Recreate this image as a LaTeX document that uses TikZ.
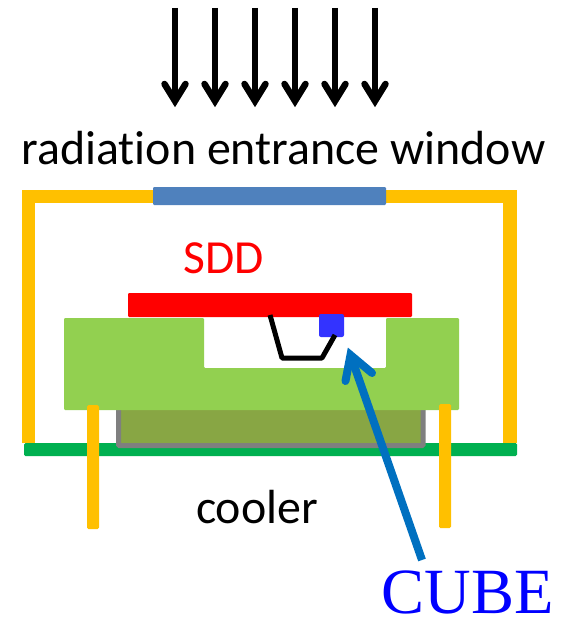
\documentclass[tikz,border=0pt]{standalone}
\usepackage{fontspec}
\setmainfont[Ligatures=NoCommon]{Carlito}
\newfontfamily\serifcube{Liberation Serif}
\definecolor{frameY}{HTML}{FFC000}
\definecolor{winB}{HTML}{4F81BD}
\definecolor{baseG}{HTML}{92D050}
\definecolor{boardG}{HTML}{00B050}
\definecolor{coolF}{HTML}{88A644}
\definecolor{coolS}{HTML}{7F7F7F}
\definecolor{chipB}{HTML}{3333FF}
\definecolor{arrowB}{HTML}{0070C0}
\tikzset{
  solidpart/.style={line width=0pt, rounded corners=1.2pt},
  framepart/.style={draw=frameY, line width=13.5pt, line cap=butt, line join=miter},
  pinpart/.style={fill=frameY, rounded corners=1.5pt},
  radshaft/.style={draw=black, line width=5.5pt},
  radhead/.style={draw=black, line width=6.5pt, line cap=round, line join=miter, miter limit=10},
  label/.style={inner sep=0pt, anchor=center},
}
\begin{document}
\begin{tikzpicture}[x=1pt,y=-1pt]
\useasboundingbox (0,0) rectangle (563,618);
% radiation arrows
\foreach \px in {175,215,255,295,335,375}{
  \coordinate (s\px) at (\px,8);
  \coordinate (e\px) at (\px,100);
  \coordinate (t\px) at (\px,101);
  \coordinate (wa\px) at (\px-10.5,84);
  \coordinate (wb\px) at (\px+10.5,84);
  \draw[radshaft] (s\px) -- (e\px);
  \draw[radhead] (wa\px) -- (t\px) -- (wb\px);
}
\node[label,font=\fontsize{47.9}{54}\selectfont] (title) at (283.5,148) {radiation entrance window};
% enclosure
\coordinate (fa) at (28.5,443);
\coordinate (fb) at (28.5,196.5);
\coordinate (fc) at (510,196.5);
\coordinate (fd) at (510,443);
\draw[framepart] (fa) -- (fb) -- (fc) -- (fd);
\fill[winB,solidpart] (153,187) rectangle (386,205);
\node[label,text=red,font=\fontsize{47.5}{52}\selectfont] (sdd) at (224,258) {SDD};
\fill[red,solidpart] (128,293) rectangle (412,317);
% board and cooler
\fill[boardG,rounded corners=1.5pt] (24,443) rectangle (517,456);
\fill[coolF,draw=coolS,line width=5pt,rounded corners=1pt] (118.5,400) rectangle (423,445.5);
% base
\fill[baseG,solidpart] (64,318) -- (204,318) -- (204,368) -- (386,368) -- (386,318) -- (459,318) -- (459,410) -- (64,410) -- cycle;
% pins
\fill[pinpart] (87,405) rectangle (99,529);
\fill[pinpart] (439,404) rectangle (451,528);
% chip and wire
\fill[chipB,rounded corners=2pt] (319,314) rectangle (344,337);
\coordinate (wa) at (270,315);
\coordinate (wb) at (282,358);
\coordinate (wc) at (322,358);
\coordinate (wd) at (335,335);
\draw[black,line width=5pt,line join=round] (wa) -- (wb) -- (wc) -- (wd);
\node[label,font=\fontsize{47.9}{54}\selectfont] (cooler) at (257,507) {cooler};
% CUBE pointer
\node[label,text=blue,font=\serifcube\fontsize{64.5}{70}\selectfont] (cube) at (467.5,592) {CUBE};
\coordinate (ptail) at (422,560);
\coordinate (ptip) at (350.5,355);
\draw[arrowB,line width=8pt] (ptail) -- (ptip);
\draw[arrowB,line width=8pt,line cap=round,line join=miter,miter limit=10] (345.5,381) -- (350.5,355) -- (372,373);
\end{tikzpicture}
\end{document}
